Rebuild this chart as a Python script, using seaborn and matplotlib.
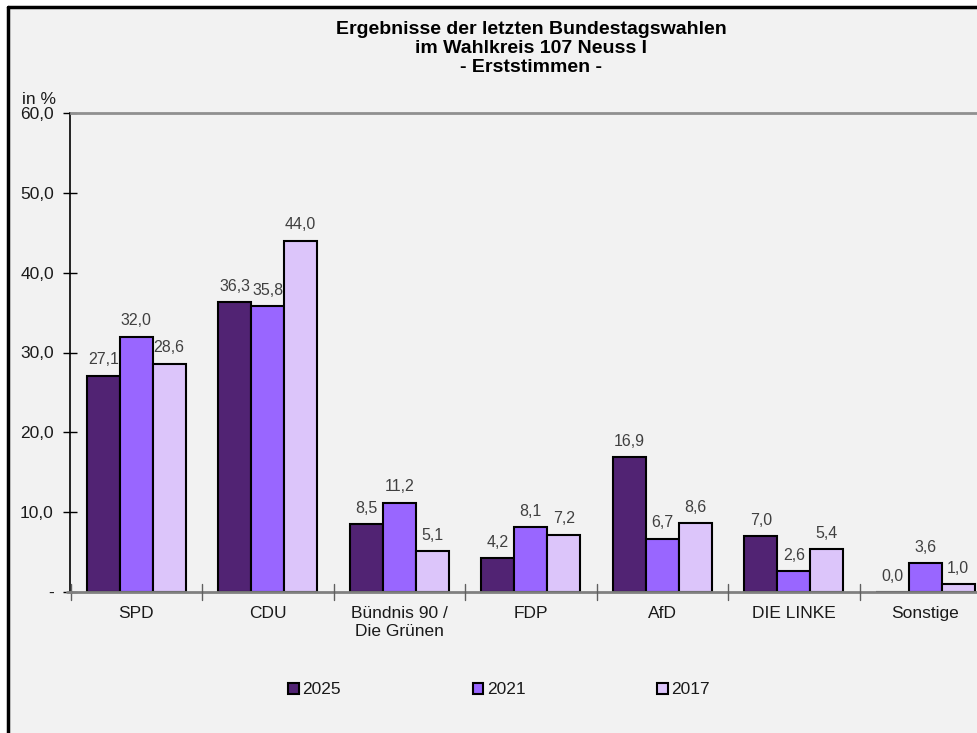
import matplotlib
matplotlib.use("Agg")
import matplotlib.pyplot as plt
import seaborn as sns
import pandas as pd
from matplotlib.lines import Line2D
from matplotlib.patches import Patch

parties = ["SPD", "CDU", "Bündnis 90 /\nDie Grünen", "FDP", "AfD", "DIE LINKE", "Sonstige"]
years = ["2025", "2021", "2017"]
v2025 = [27.1, 36.3, 8.5, 4.2, 16.9, 7.0, 0.0]
v2021 = [32.0, 35.8, 11.2, 8.1, 6.7, 2.6, 3.6]
v2017 = [28.6, 44.0, 5.1, 7.2, 8.6, 5.4, 1.0]
colors = ["#512373", "#9966FF", "#DCC5FA"]
yticks = [0, 10, 20, 30, 40, 50, 60]
ytick_labels = ["-", "10,0", "20,0", "30,0", "40,0", "50,0", "60,0"]

df = pd.DataFrame({
    "Partei": parties * 3,
    "Jahr": [years[0]] * 7 + [years[1]] * 7 + [years[2]] * 7,
    "Wert": v2025 + v2021 + v2017,
})

sns.set_theme(style="white")
plt.rcParams["font.family"] = ["Liberation Sans", "DejaVu Sans"]

bg = "#f2f2f2"
fig = plt.figure(figsize=(9.78, 7.33), dpi=100, facecolor="white")
fig.patches.append(matplotlib.patches.Rectangle((7.5 / 978, 0), 1, 1 - 7 / 733,
                                               transform=fig.transFigure, facecolor=bg,
                                               edgecolor="none", zorder=-10))
fig.add_artist(Line2D([8 / 978, 8 / 978], [0, 1 - 7 / 733], color="black", lw=2.5,
                      transform=fig.transFigure))
fig.add_artist(Line2D([8 / 978, 1], [1 - 7 / 733, 1 - 7 / 733], color="black", lw=2.5,
                      transform=fig.transFigure))

left = 70.5 / 978
right = 991 / 978
bottom = 1 - 592 / 733
top = 1 - 113 / 733
ax = fig.add_axes([left, bottom, right - left, top - bottom])
ax.set_facecolor(bg)

sns.barplot(data=df, x="Partei", y="Wert", hue="Jahr", hue_order=years,
            palette=colors, width=0.75, gap=0, edgecolor="black", linewidth=1.5,
            saturation=1, ax=ax, legend=False, err_kws={"linewidth": 0})

for cont in ax.containers:
    ax.bar_label(cont, labels=[f"{v:.1f}".replace(".", ",") for v in cont.datavalues],
                 padding=6, fontsize=11.5, color="#404040")

ax.set_ylim(0, 60)
ax.set_xlim(-0.5, 6.5)
ax.set_yticks(yticks)
ax.set_yticklabels(ytick_labels, fontsize=12.5, color="#1a1a1a")
ax.set_xticks(range(7))
ax.set_xticklabels(parties, fontsize=12.5, color="#1a1a1a", linespacing=1.25)
ax.tick_params(axis="x", length=0, pad=10)
ax.tick_params(axis="y", direction="inout", length=10, width=1, color="black", pad=7, left=True)
for xs in [-0.5 + i for i in range(8)]:
    ax.plot([xs, xs], [-1.0, 1.0], color="#606060", lw=1, clip_on=False, zorder=5)
ax.plot([-0.53, -0.5], [0, 0], color="#808080", lw=2, clip_on=False, zorder=5)
ax.set_xlabel("")
ax.set_ylabel("")

ax.spines["right"].set_visible(False)
ax.spines["left"].set_color("black")
ax.spines["left"].set_linewidth(1.2)
ax.spines["bottom"].set_color("#808080")
ax.spines["bottom"].set_linewidth(2)
ax.spines["top"].set_color("#909090")
ax.spines["top"].set_linewidth(2)
ax.spines["bottom"].set_zorder(4)

fig.text(531 / 978, 1 - 21 / 733,
         "Ergebnisse der letzten Bundestagswahlen\nim Wahlkreis 107 Neuss I\n- Erststimmen -",
         ha="center", va="top", fontsize=14, fontweight="bold", linespacing=1.17,
         color="black")
fig.text(22 / 978, 1 - 99 / 733, "in %", ha="left", va="center", fontsize=12.5, color="#1a1a1a")

handles = [Patch(facecolor=c, edgecolor="black", linewidth=1.5) for c in colors]
fig.legend(handles, years, loc="center", bbox_to_anchor=(499 / 978, 1 - 690 / 733), ncol=3,
           frameon=False, fontsize=12.5, handlelength=0.6, handleheight=0.6,
           handletextpad=0.2, columnspacing=7.6, labelcolor="#1a1a1a")

fig.savefig("out.png", dpi=100, facecolor="white")
